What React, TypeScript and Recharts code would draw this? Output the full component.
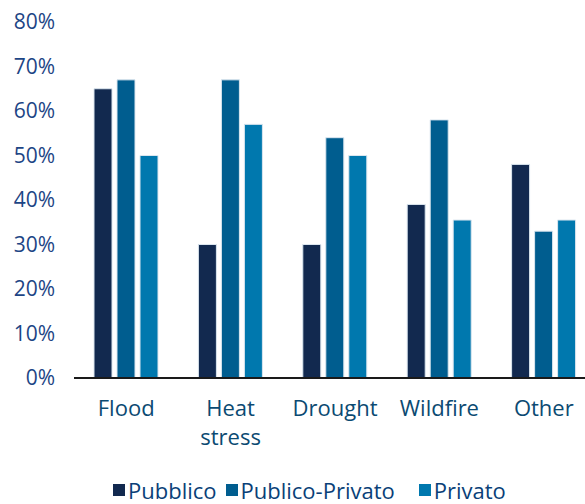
import { Bar, BarChart, Legend, XAxis, YAxis } from 'recharts'

const categories = ['Flood', 'Heat stress', 'Drought', 'Wildfire', 'Other']
const pubblico = [65, 30, 30, 39, 48]
const publicoPrivato = [67, 67, 54, 58, 33]
const privato = [50, 57, 50, 35.5, 35.5]
const yTicks = [0, 10, 20, 30, 40, 50, 60, 70, 80]

const data = categories.map((name, i) => ({
  name,
  pubblico: pubblico[i],
  publicoPrivato: publicoPrivato[i],
  privato: privato[i]
}))

const series = [
  { key: 'pubblico', label: 'Pubblico', color: '#12294f' },
  { key: 'publicoPrivato', label: 'Publico-Privato', color: '#005d8f' },
  { key: 'privato', label: 'Privato', color: '#0078ae' }
]

const font = '"Open Sans", sans-serif'

const CategoryTick = ({ x, y, payload }: any) => {
  const lines = String(payload.value).split(' ')
  return (
    <text x={x} y={y} textAnchor="middle" fill="#0b4a72" fontSize={22} fontFamily={font}>
      {lines.map((line, i) => (
        <tspan key={line} x={x} dy={i === 0 ? '0.66em' : 29}>
          {line}
        </tspan>
      ))}
    </text>
  )
}

const LegendRow = () => (
  <div
    style={{
      display: 'flex',
      justifyContent: 'flex-start',
      alignItems: 'center',
      height: 28,
      paddingTop: 7,
      paddingLeft: 113,
      fontFamily: font,
      fontSize: 22,
      color: '#0a3f78'
    }}
  >
    {series.map((s, i) => (
      <span key={s.key} style={{ display: 'flex', alignItems: 'center', marginRight: i === 0 ? 9 : 24 }}>
        <span style={{ width: 12, height: 12, background: s.color, marginRight: 3, display: 'inline-block' }} />
        {s.label}
      </span>
    ))}
  </div>
)

const App = () => {
  return (
    <div style={{ position: 'absolute', left: 0, top: 0, width: 585, height: 504, overflow: 'hidden', background: '#fff' }}>
      <BarChart
        width={596}
        height={504}
        data={data}
        margin={{ top: 22, right: 0, bottom: 0, left: 0 }}
        barSize={18}
        barGap={5}
      >
        <XAxis
          dataKey="name"
          axisLine={{ stroke: '#1a1a1a', strokeWidth: 2 }}
          tickLine={false}
          tickMargin={17}
          height={91}
          interval={0}
          tick={<CategoryTick />}
        />
        <YAxis
          domain={[0, 80]}
          ticks={yTicks}
          width={74}
          axisLine={false}
          tickLine={false}
          tickMargin={13}
          tickFormatter={(v) => `${v}%`}
          tick={{ fill: '#1d4585', fontSize: 21, fontFamily: font }}
        />
        <Legend verticalAlign="bottom" content={<LegendRow />} />
        {series.map((s) => (
          <Bar
            key={s.key}
            dataKey={s.key}
            name={s.label}
            fill={s.color}
            stroke="#dbe6ef"
            strokeWidth={1}
            isAnimationActive={false}
          />
        ))}
      </BarChart>
    </div>
  )
}

export default App
